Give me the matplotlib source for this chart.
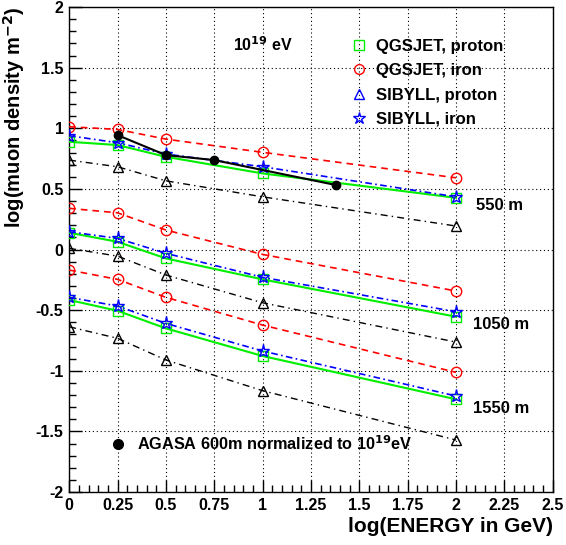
import matplotlib
matplotlib.use("Agg")
import matplotlib.pyplot as plt
from matplotlib.lines import Line2D
from matplotlib.ticker import MultipleLocator
import numpy as np

plt.rcParams['font.family'] = ['Liberation Sans', 'DejaVu Sans']
plt.rcParams['font.weight'] = 'bold'
plt.rcParams['mathtext.default'] = 'bf'

energy = [0, 0.25, 0.5, 1.0, 2.0]

# 550 m
qgs_p_550 = [0.889, 0.862, 0.765, 0.628, 0.427]
qgs_fe_550 = [1.013, 0.991, 0.911, 0.802, 0.592]
sib_p_550 = [0.738, 0.683, 0.567, 0.435, 0.194]
sib_fe_550 = [0.939, 0.881, 0.788, 0.683, 0.435]
# 1050 m
qgs_p_1050 = [0.139, 0.064, -0.073, -0.246, -0.554]
qgs_fe_1050 = [0.340, 0.303, 0.161, -0.040, -0.342]
sib_p_1050 = [0.010, -0.054, -0.210, -0.439, -0.763]
sib_fe_1050 = [0.147, 0.092, -0.031, -0.229, -0.513]
# 1550 m
qgs_p_1550 = [-0.416, -0.505, -0.650, -0.878, -1.235]
qgs_fe_1550 = [-0.169, -0.246, -0.394, -0.623, -1.013]
sib_p_1550 = [-0.637, -0.732, -0.911, -1.164, -1.571]
sib_fe_1550 = [-0.394, -0.466, -0.609, -0.837, -1.208]

agasa_x = [0.25, 0.5, 0.75, 1.38]
agasa_y = [0.944, 0.779, 0.738, 0.532]
agasa_err = [0.015, 0.015, 0.015, 0.03]

xticks = [0, 0.25, 0.5, 0.75, 1, 1.25, 1.5, 1.75, 2, 2.25, 2.5]
xticklabels = ['0', '0.25', '0.5', '0.75', '1', '1.25', '1.5', '1.75', '2', '2.25', '2.5']
yticks = [-2, -1.5, -1, -0.5, 0, 0.5, 1, 1.5, 2]
yticklabels = ['-2', '-1.5', '-1', '-0.5', '0', '0.5', '1', '1.5', '2']

fig = plt.figure(figsize=(5.66, 5.45), dpi=100)
ax = fig.add_axes([0.1222, 0.0972, 0.8543, 0.8898])

ms = 7.5
styles = {
    'qp': dict(color='#00ee00', ls='-', lw=1.5, marker='s', mfc='none', mec='#00ee00', ms=ms, mew=1),
    'qf': dict(color='#ff0000', ls=(0, (4, 3)), lw=1.2, marker='o', mfc='none', mec='#ff0000', ms=ms, mew=1),
    'sp': dict(color='black', ls=(0, (5, 3, 1, 3)), lw=1.0, marker='^', mfc='none', mec='black', ms=ms, mew=1),
    'sf': dict(color='#0000ff', ls=(0, (4, 2, 1, 2)), lw=1.2, marker='*', mfc='none', mec='#0000ff', ms=ms + 2, mew=1),
}
groups = [
    (qgs_p_550, qgs_fe_550, sib_p_550, sib_fe_550),
    (qgs_p_1050, qgs_fe_1050, sib_p_1050, sib_fe_1050),
    (qgs_p_1550, qgs_fe_1550, sib_p_1550, sib_fe_1550),
]
for qp, qf, sp, sf in groups:
    ax.plot(energy, sp, **styles['sp'], zorder=3)
    ax.plot(energy, qf, **styles['qf'], zorder=3)
    ax.plot(energy, qp, **styles['qp'], zorder=4)
    ax.plot(energy, sf, **styles['sf'], zorder=5)

ax.errorbar(agasa_x, agasa_y, yerr=agasa_err, color='black', lw=1.5, marker='o',
            ms=6, mfc='black', mec='black', capsize=0, zorder=6)

ax.set_xlim(0, 2.5)
ax.set_ylim(-2, 2)
ax.set_xticks(xticks)
ax.set_xticklabels(xticklabels)
ax.set_yticks(yticks)
ax.set_yticklabels(yticklabels)
ax.xaxis.set_minor_locator(MultipleLocator(0.05))
ax.yaxis.set_minor_locator(MultipleLocator(0.1))
ax.tick_params(which='major', direction='in', length=9, width=1, labelsize=11.5, pad=4)
ax.tick_params(which='minor', direction='in', length=5, width=1)
ax.tick_params(top=False, right=False)
for lab in ax.get_xticklabels() + ax.get_yticklabels():
    lab.set_fontweight('bold')
ax.grid(True, which='major', color='black', ls=(0, (1, 2.5)), lw=0.8)
for sp_ in ax.spines.values():
    sp_.set_linewidth(1.0)

ax.set_xlabel('log(ENERGY in GeV)', fontsize=15, fontweight='bold', loc='right', labelpad=3)
ax.set_ylabel(r'log(muon density m$^{-2}$)', fontsize=14.5, fontweight='bold', loc='top', labelpad=6)

ax.text(2.105, 0.367, '550 m', fontsize=12, fontweight='bold', va='center', ha='left')
ax.text(2.09, -0.62, '1050 m', fontsize=12, fontweight='bold', va='center', ha='left')
ax.text(2.09, -1.31, '1550 m', fontsize=12, fontweight='bold', va='center', ha='left')
ax.text(0.845, 1.69, r'10$^{19}$ eV', fontsize=11.5, fontweight='bold', va='center', ha='left')

handles = [
    Line2D([], [], ls='none', marker='s', mfc='none', mec='#00ee00', ms=7, mew=1),
    Line2D([], [], ls='none', marker='o', mfc='none', mec='#ff0000', ms=7, mew=1),
    Line2D([], [], ls='none', marker='^', mfc='none', mec='#0000ff', ms=7, mew=1),
    Line2D([], [], ls='none', marker='*', mfc='none', mec='#0000ff', ms=9, mew=1),
]
labels = ['QGSJET, proton', 'QGSJET, iron', 'SIBYLL, proton', 'SIBYLL, iron']
leg = ax.legend(handles, labels, loc='upper left', bbox_to_anchor=(0.569, 0.948),
                frameon=False, prop={'weight': 'bold', 'size': 12},
                handlelength=1.0, handletextpad=0.5, labelspacing=0.56, borderaxespad=0)

h2 = [Line2D([], [], ls='none', marker='o', mfc='black', mec='black', ms=7)]
leg2 = ax.legend(h2, [r'AGASA 600m normalized to 10$^{19}$eV'], loc='center left',
                 bbox_to_anchor=(0.07, 0.1), frameon=False,
                 prop={'weight': 'bold', 'size': 11.7}, handlelength=1.0, handletextpad=0.7,
                 borderaxespad=0)
ax.add_artist(leg)

fig.savefig('out.png', dpi=100)
